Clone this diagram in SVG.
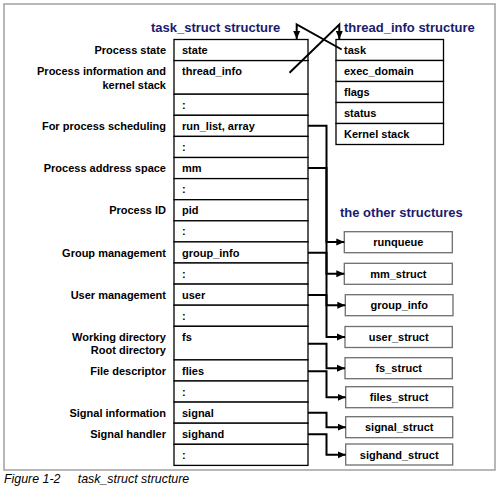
<svg xmlns="http://www.w3.org/2000/svg" width="500" height="494" viewBox="0 0 500 494">
<defs>
<style>
text{font-family:"Liberation Sans",Arial,sans-serif;}
.lbl{font-size:11px;font-weight:bold;fill:#000;text-anchor:end;}
.cell{font-size:11px;font-weight:bold;fill:#000;}
.title{font-size:13px;font-weight:bold;fill:#1a1a6e;}
.row{fill:#fff;stroke:#000;stroke-width:1.3;}
.box{fill:#fff;stroke:#6e6e6e;stroke-width:1.3;}
.btxt{font-size:11px;font-weight:bold;fill:#000;text-anchor:middle;}
.conn{fill:none;stroke:#000;stroke-width:2;marker-end:url(#ah);}
.cap{font-size:12.4px;font-style:italic;fill:#000;}
</style>
<marker id="ah" markerUnits="userSpaceOnUse" markerWidth="9" markerHeight="8" refX="8" refY="4" orient="auto">
<path d="M0,0.5 L8,4 L0,7.5 z" fill="#000"/>
</marker>
</defs>
<rect x="0" y="0" width="500" height="494" fill="#fff"/>
<rect x="4" y="4" width="491" height="466" fill="#fff" stroke="#a0a0a0" stroke-width="1.5"/>

<text class="title" x="151" y="32">task_struct structure</text>
<text class="title" x="344" y="32">thread_info structure</text>
<text class="title" x="340" y="217">the other structures</text>

<g id="task_struct">
<rect class="row" x="174" y="39.5" width="134" height="21.1"/>
<rect class="row" x="174" y="60.6" width="134" height="33.6"/>
<rect class="row" x="174" y="94.2" width="134" height="21.1"/>
<rect class="row" x="174" y="115.3" width="134" height="21.1"/>
<rect class="row" x="174" y="136.4" width="134" height="21.1"/>
<rect class="row" x="174" y="157.5" width="134" height="21.1"/>
<rect class="row" x="174" y="178.6" width="134" height="21.1"/>
<rect class="row" x="174" y="199.7" width="134" height="21.1"/>
<rect class="row" x="174" y="220.8" width="134" height="21.1"/>
<rect class="row" x="174" y="241.9" width="134" height="21.1"/>
<rect class="row" x="174" y="263" width="134" height="21.1"/>
<rect class="row" x="174" y="284.1" width="134" height="21.1"/>
<rect class="row" x="174" y="305.2" width="134" height="21.1"/>
<rect class="row" x="174" y="326.3" width="134" height="33.6"/>
<rect class="row" x="174" y="359.9" width="134" height="21.1"/>
<rect class="row" x="174" y="381" width="134" height="21.1"/>
<rect class="row" x="174" y="402.1" width="134" height="21.1"/>
<rect class="row" x="174" y="423.2" width="134" height="21.1"/>
<rect class="row" x="174" y="444.3" width="134" height="21.1"/>
<text class="cell" x="182" y="54">state</text>
<text class="cell" x="182" y="75">thread_info</text>
<text class="cell" x="182" y="109">:</text>
<text class="cell" x="182" y="130">run_list, array</text>
<text class="cell" x="182" y="151">:</text>
<text class="cell" x="182" y="172">mm</text>
<text class="cell" x="182" y="193">:</text>
<text class="cell" x="182" y="214">pid</text>
<text class="cell" x="182" y="235">:</text>
<text class="cell" x="182" y="256.5">group_info</text>
<text class="cell" x="182" y="277.5">:</text>
<text class="cell" x="182" y="298.5">user</text>
<text class="cell" x="182" y="319.5">:</text>
<text class="cell" x="182" y="340.5">fs</text>
<text class="cell" x="182" y="374.5">flies</text>
<text class="cell" x="182" y="395.5">:</text>
<text class="cell" x="182" y="416.5">signal</text>
<text class="cell" x="182" y="437.5">sighand</text>
<text class="cell" x="182" y="458.5">:</text>
</g>

<g id="labels">
<text class="lbl" x="166" y="54">Process state</text>
<text class="lbl" x="166" y="75">Process information and</text>
<text class="lbl" x="166" y="88.5">kernel stack</text>
<text class="lbl" x="166" y="130">For process scheduling</text>
<text class="lbl" x="166" y="172">Process address space</text>
<text class="lbl" x="166" y="214">Process ID</text>
<text class="lbl" x="166" y="256.5">Group management</text>
<text class="lbl" x="166" y="298.5">User management</text>
<text class="lbl" x="166" y="340.5">Working directory</text>
<text class="lbl" x="166" y="354">Root directory</text>
<text class="lbl" x="166" y="374.5">File descriptor</text>
<text class="lbl" x="166" y="416.5">Signal information</text>
<text class="lbl" x="166" y="437.5">Signal handler</text>
</g>

<g id="thread_info">
<rect class="row" x="336" y="39.5" width="107.5" height="21"/>
<rect class="row" x="336" y="60.5" width="107.5" height="21"/>
<rect class="row" x="336" y="81.5" width="107.5" height="21"/>
<rect class="row" x="336" y="102.5" width="107.5" height="21"/>
<rect class="row" x="336" y="123.5" width="107.5" height="21"/>
<text class="cell" x="344" y="54">task</text>
<text class="cell" x="344" y="75">exec_domain</text>
<text class="cell" x="344" y="96">flags</text>
<text class="cell" x="344" y="117">status</text>
<text class="cell" x="344" y="138">Kernel stack</text>
</g>

<g id="runqueue"><rect class="box" x="344.3" y="231.7" width="108" height="21"/><text class="btxt" x="398.3" y="246.2">runqueue</text></g>
<g id="mm_struct"><rect class="box" x="344.3" y="263.3" width="108" height="21"/><text class="btxt" x="398.3" y="277.8">mm_struct</text></g>
<g id="group_info"><rect class="box" x="345.3" y="294.7" width="107.7" height="21"/><text class="btxt" x="399.2" y="309.2">group_info</text></g>
<g id="user_struct"><rect class="box" x="345" y="326.5" width="107.3" height="21"/><text class="btxt" x="398.7" y="341">user_struct</text></g>
<g id="fs_struct"><rect class="box" x="345" y="357.7" width="107.3" height="21"/><text class="btxt" x="398.7" y="372.2">fs_struct</text></g>
<g id="files_struct"><rect class="box" x="345.7" y="386.7" width="107" height="21"/><text class="btxt" x="399.2" y="401.2">files_struct</text></g>
<g id="signal_struct"><rect class="box" x="345.7" y="416.7" width="107" height="21"/><text class="btxt" x="399.2" y="431.2">signal_struct</text></g>
<g id="sighand_struct"><rect class="box" x="345.7" y="444" width="107" height="21"/><text class="btxt" x="399.2" y="458.5">sighand_struct</text></g>

<g id="connectors">
<path class="conn" d="M341.7,49.5 L296.7,24.5 L296.7,39"/>
<path class="conn" d="M289.5,72.7 L339.3,24.5 L339.3,39"/>
<path class="conn" d="M308,125.8 H326.5 V242 H344.3"/>
<path class="conn" d="M308,168 H326.5 V273.7 H344.3"/>
<path class="conn" d="M308,252.8 H326.5 V305.2 H345.3"/>
<path class="conn" d="M308,295 H326.5 V337 H345"/>
<path class="conn" d="M308,343.7 H326.5 V368.2 H345"/>
<path class="conn" d="M308,371.2 H326.5 V397.3 H345.7"/>
<path class="conn" d="M308,412.8 H326.5 V427.2 H345.7"/>
<path class="conn" d="M308,434.3 H326.5 V454.8 H345.7"/>
</g>

<text class="cap" x="4" y="483">Figure 1-2</text>
<text class="cap" x="77.7" y="483">task_struct structure</text>
</svg>
